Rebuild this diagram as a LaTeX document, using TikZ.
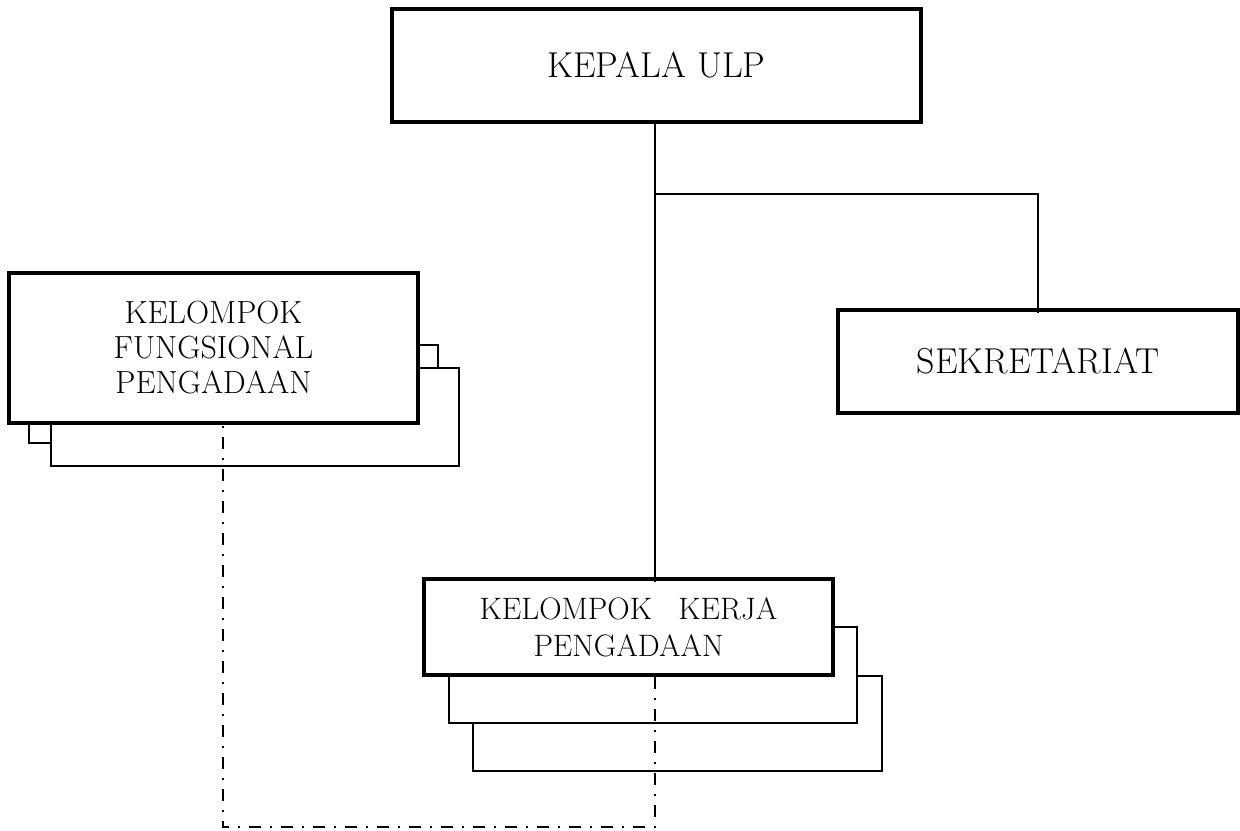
\documentclass[tikz,border=0pt]{standalone}
\usepackage{tikz}

\tikzset{
  unitbox/.style={draw, line width=1.8pt, fill=white, inner sep=0pt, align=center},
  shadowbox/.style={draw, line width=0.8pt, fill=white},
  link/.style={draw, line width=0.8pt},
  linkdash/.style={draw, line width=1.2pt, dash pattern=on 6pt off 4.5pt on 1.2pt off 4.3pt}
}

\begin{document}
\begin{tikzpicture}[x=0.5pt, y=-0.5pt]
\useasboundingbox (0, 0) rectangle (1240, 830);
% shadow boxes
\draw[shadowbox] (29, 345) rectangle (438, 443);
\draw[shadowbox] (51, 368) rectangle (459, 466);
\draw[shadowbox] (473, 676) rectangle (882, 771);
\draw[shadowbox] (449, 627) rectangle (857, 723);
% units
\node[unitbox, minimum width=264.5pt, minimum height=56.5pt, font=\fontsize{18}{20}\selectfont](kepala) at (656.5, 65.5) {KEPALA ULP};
\node[unitbox, minimum width=200pt, minimum height=51.5pt, font=\fontsize{18}{20}\selectfont](sekretariat) at (1038, 361.5) {SEKRETARIAT};
\node[unitbox, minimum width=204.5pt, minimum height=75pt, font=\fontsize{16}{17.5}\selectfont](fungsional) at (213.5, 348) {KELOMPOK\\FUNGSIONAL\\PENGADAAN};
\node[unitbox, minimum width=204.5pt, minimum height=48pt, font=\fontsize{15.5}{18.5}\selectfont](kerja) at (628.5, 627) {KELOMPOK\hspace{0.85em}KERJA\\PENGADAAN};
\coordinate (split) at (655, 194);
\coordinate (fk) at (223, 827);
\draw[link] (kepala.south -| split) -- ([yshift=-2.5pt]kerja.north -| split);
\draw[link] (split) -| ([yshift=-2.5pt]sekretariat.north);
\draw[linkdash] (kerja.south -| split) |- (fk) -- (fk |- fungsional.south);
\end{tikzpicture}
\end{document}
